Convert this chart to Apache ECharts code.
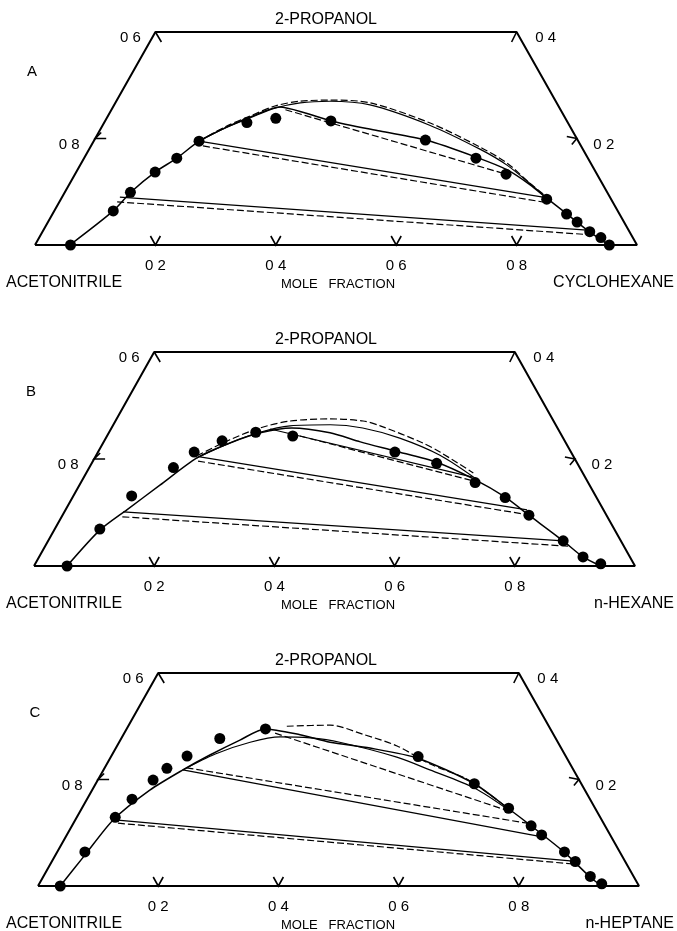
<!DOCTYPE html>
<html>
<head>
    <meta charset="utf-8">
    <title>2-Propanol ternary diagrams</title>
    <script src="https://cdn.jsdelivr.net/npm/echarts/dist/echarts.min.js"></script>
</head>
<body style="margin:0;background:#fff">
<div id="main" style="width: 677px;height:931px;"></div>
<script type="text/javascript">
    // compositions are [x hydrocarbon, x 2-propanol] (mole fraction)

    // ---- panel A : acetonitrile / 2-propanol / cyclohexane
    var ptsA = [[0.059, 0.000], [0.098, 0.064], [0.109, 0.099], [0.131, 0.137], [0.154, 0.163], [0.175, 0.195],
        [0.237, 0.230], [0.281, 0.238], [0.375, 0.233], [0.550, 0.197], [0.651, 0.163], [0.716, 0.133],
        [0.807, 0.086], [0.854, 0.058], [0.879, 0.043], [0.909, 0.025], [0.933, 0.014], [0.954, 0.000]];
    var binodalA = [[0.058, 0], [0.098, 0.064], [0.110, 0.100], [0.131, 0.137], [0.154, 0.163], [0.175, 0.195],
        [0.206, 0.220], [0.237, 0.240], [0.277, 0.259], [0.325, 0.248], [0.375, 0.233], [0.466, 0.214],
        [0.551, 0.197], [0.650, 0.165], [0.714, 0.141], [0.766, 0.113], [0.806, 0.088], [0.855, 0.058],
        [0.910, 0.024], [0.953, 0]];
    var upperA = [[0.175, 0.195], [0.206, 0.220], [0.238, 0.239], [0.270, 0.257], [0.307, 0.267], [0.355, 0.270],
        [0.425, 0.263], [0.543, 0.225], [0.649, 0.180], [0.709, 0.150], [0.765, 0.115], [0.806, 0.088]];
    var upperDashA = [[0.175, 0.195], [0.205, 0.222], [0.236, 0.242], [0.268, 0.261], [0.305, 0.270], [0.354, 0.272],
        [0.423, 0.267], [0.542, 0.229], [0.647, 0.184], [0.707, 0.154], [0.764, 0.116], [0.806, 0.090]];
    var tiesA = [[[0.096, 0.090], [0.903, 0.028]], [[0.175, 0.195], [0.799, 0.090]]];
    var tiesDashA = [[[0.096, 0.081], [0.916, 0.019]], [[0.186, 0.186], [0.814, 0.079]], [[0.289, 0.254], [0.723, 0.131]]];

    // ---- panel B : acetonitrile / 2-propanol / n-hexane
    var ptsB = [[0.055, 0], [0.075, 0.069], [0.097, 0.131], [0.140, 0.184], [0.160, 0.213], [0.196, 0.234],
        [0.244, 0.250], [0.309, 0.243], [0.494, 0.213], [0.574, 0.192], [0.656, 0.156], [0.720, 0.128],
        [0.776, 0.095], [0.857, 0.047], [0.905, 0.017], [0.941, 0.004]];
    var binodalB = [[0.055, 0], [0.076, 0.067], [0.102, 0.105], [0.134, 0.151], [0.170, 0.202], [0.211, 0.230],
        [0.252, 0.249], [0.300, 0.258], [0.368, 0.249], [0.427, 0.232], [0.493, 0.215], [0.573, 0.194],
        [0.654, 0.161], [0.719, 0.129], [0.776, 0.095], [0.857, 0.047], [0.905, 0.017], [0.943, 0]];
    var upperB = [[0.170, 0.202], [0.211, 0.230], [0.251, 0.250], [0.295, 0.262], [0.361, 0.264], [0.418, 0.258],
        [0.489, 0.239], [0.572, 0.207], [0.652, 0.164]];
    var upperDashB = [[0.168, 0.206], [0.208, 0.236], [0.247, 0.258], [0.291, 0.271], [0.355, 0.275], [0.412, 0.271],
        [0.445, 0.262], [0.532, 0.230], [0.569, 0.213], [0.644, 0.174]];
    var tiesB = [[[0.098, 0.101], [0.857, 0.047]], [[0.174, 0.204], [0.768, 0.105]], [[0.265, 0.256], [0.647, 0.166]]];
    var tiesDashB = [[[0.101, 0.092], [0.870, 0.037]], [[0.175, 0.196], [0.779, 0.095]], [[0.321, 0.243], [0.659, 0.157]]];

    // ---- panel C : acetonitrile / 2-propanol / n-heptane
    var ptsC = [[0.037, 0], [0.046, 0.064], [0.064, 0.129], [0.075, 0.163], [0.092, 0.199], [0.104, 0.221],
        [0.126, 0.244], [0.164, 0.277], [0.231, 0.295], [0.511, 0.243], [0.630, 0.192], [0.710, 0.146],
        [0.764, 0.113], [0.790, 0.096], [0.844, 0.064], [0.871, 0.046], [0.910, 0.018], [0.936, 0.004]];
    var binodalC = [[0.037, 0], [0.049, 0.058], [0.063, 0.124], [0.096, 0.180], [0.132, 0.218], [0.163, 0.246],
        [0.199, 0.274], [0.230, 0.295], [0.294, 0.284], [0.351, 0.270], [0.423, 0.259], [0.512, 0.240],
        [0.630, 0.192], [0.709, 0.146], [0.764, 0.113], [0.843, 0.064], [0.910, 0.017], [0.938, 0]];
    var upperC = [[0.132, 0.218], [0.171, 0.248], [0.218, 0.270], [0.263, 0.280], [0.314, 0.278], [0.367, 0.270],
        [0.476, 0.242], [0.543, 0.218], [0.634, 0.184], [0.711, 0.143]];
    var upperDashC = [[0.264, 0.300], [0.335, 0.302], [0.398, 0.285], [0.466, 0.263], [0.538, 0.229], [0.613, 0.201],
        [0.667, 0.171], [0.709, 0.146]];
    var tiesC = [[[0.066, 0.124], [0.862, 0.047]], [[0.132, 0.218], [0.783, 0.094]]];
    var tiesDashC = [[[0.074, 0.118], [0.873, 0.041]], [[0.136, 0.222], [0.755, 0.118]], [[0.251, 0.287], [0.706, 0.143]]];

    // ---- axes / labels
    var baseTicks = [0.2, 0.4, 0.6, 0.8];
    var baseTickLabels = ['0 2', '0 4', '0 6', '0 8'];
    var sideTicks = [0.2, 0.4];                 // 2-propanol fraction along the side edges
    var leftTickLabels = ['0 8', '0 6'];        // acetonitrile fraction
    var rightTickLabels = ['0 2', '0 4'];
    var topCut = 0.4;                           // diagram truncated at x(2-propanol) = 0.4
    var panelLetters = ['A', 'B', 'C'];
    var hydrocarbons = ['CYCLOHEXANE', 'n-HEXANE', 'n-HEPTANE'];

    var FONT = '"Liberation Sans", Arial, sans-serif';
    var S3 = Math.sqrt(3) / 2;
    function xy(p) { return [p[0] + p[1] / 2, p[1] * S3]; }

    var panels = [
        {pts: ptsA, bin: binodalA, up: upperA, upd: upperDashA, ties: tiesA, tiesd: tiesDashA,
            grid: {left: 35, top: 32, width: 602, height: 213}},
        {pts: ptsB, bin: binodalB, up: upperB, upd: upperDashB, ties: tiesB, tiesd: tiesDashB,
            grid: {left: 34, top: 352, width: 601, height: 214}},
        {pts: ptsC, bin: binodalC, up: upperC, upd: upperDashC, ties: tiesC, tiesd: tiesDashC,
            grid: {left: 38, top: 673, width: 601, height: 213}}
    ];

    // chevron arms (px) and label offsets for each kind of tick
    var tickStyle = {
        base: {arms: [[-5, -9], [5, -9]], off: [0, 21]},
        left: {arms: [[6, -6], [11, 0]], off: [-26, 6]},
        leftTop: {arms: [[0, 0], [6, 10]], off: [-25, 6]},
        right: {arms: [[-10, -2], [-5, 6]], off: [27, 6]},
        rightTop: {arms: [[0, 0], [-5, 10]], off: [29, 6]}
    };

    var ticks = [];
    baseTicks.forEach(function (v, k) { ticks.push({p: [v, 0], kind: 'base', label: baseTickLabels[k]}); });
    sideTicks.forEach(function (v, k) {
        ticks.push({p: [0, v], kind: v === topCut ? 'leftTop' : 'left', label: leftTickLabels[k]});
        ticks.push({p: [1 - v, v], kind: v === topCut ? 'rightTop' : 'right', label: rightTickLabels[k]});
    });

    var grids = [], xAxes = [], yAxes = [], series = [], graphics = [];

    panels.forEach(function (pn, i) {
        grids.push(pn.grid);
        xAxes.push({gridIndex: i, type: 'value', min: 0, max: 1, show: false});
        yAxes.push({gridIndex: i, type: 'value', min: 0, max: topCut * S3, show: false});

        function line(data, dashed, w, smooth) {
            series.push({
                type: 'line', xAxisIndex: i, yAxisIndex: i, silent: true,
                data: data.map(xy), symbol: 'none', smooth: smooth,
                lineStyle: {color: '#000', width: w, type: dashed ? [7, 3] : 'solid'}
            });
        }

        // frame
        line([[0, 0], [0, topCut], [1 - topCut, topCut], [1, 0], [0, 0]], false, 2, false);
        // tie lines
        pn.ties.forEach(function (t) { line(t, false, 1.2, false); });
        pn.tiesd.forEach(function (t) { line(t, true, 1.2, false); });
        // calculated binodals
        line(pn.bin, false, 1.5, 0.25);
        line(pn.up, false, 1.2, 0.3);
        line(pn.upd, true, 1.2, 0.3);

        // ticks + tick labels
        series.push({
            type: 'custom', xAxisIndex: i, yAxisIndex: i, silent: true,
            data: ticks.map(function (t) { return xy(t.p); }),
            renderItem: function (params, api) {
                var t = ticks[params.dataIndex];
                var st = tickStyle[t.kind];
                var c = api.coord([api.value(0), api.value(1)]);
                return {
                    type: 'group',
                    children: [{
                        type: 'polyline',
                        shape: {points: [[c[0] + st.arms[0][0], c[1] + st.arms[0][1]], c,
                            [c[0] + st.arms[1][0], c[1] + st.arms[1][1]]]},
                        style: {stroke: '#000', lineWidth: 1.6, fill: 'none'}
                    }, {
                        type: 'text', x: c[0] + st.off[0], y: c[1] + st.off[1],
                        style: {text: t.label, font: '15px ' + FONT, fill: '#000',
                            align: 'center', verticalAlign: 'middle',
                            textAlign: 'center', textVerticalAlign: 'middle'}
                    }]
                };
            }
        });

        // experimental points
        series.push({
            type: 'scatter', xAxisIndex: i, yAxisIndex: i, silent: true, z: 5,
            data: pn.pts.map(xy), symbol: 'circle', symbolSize: 11,
            itemStyle: {color: '#000', opacity: 1}
        });

        // texts
        var g = pn.grid, baseY = g.top + g.height;
        function txt(s, x, y, size, align) {
            graphics.push({
                type: 'text', x: x, y: y,
                style: {text: s, font: size + 'px ' + FONT, fill: '#000',
                    align: align, verticalAlign: 'middle', textAlign: align, textVerticalAlign: 'middle'}
            });
        }
        txt('2-PROPANOL', 326, g.top - 12, 16, 'center');
        txt(panelLetters[i], g.left - 3, g.top + 40, 15, 'center');
        txt('ACETONITRILE', 6, baseY + 38, 16, 'left');
        txt('MOLE   FRACTION', 338, baseY + 39, 13, 'center');
        txt(hydrocarbons[i], 674, baseY + 38, 16, 'right');
    });

    var myChart = echarts.init(document.getElementById('main'));
    myChart.setOption({
        animation: false,
        backgroundColor: '#fff',
        grid: grids,
        xAxis: xAxes,
        yAxis: yAxes,
        series: series,
        graphic: graphics
    });
</script>
</body>
</html>
